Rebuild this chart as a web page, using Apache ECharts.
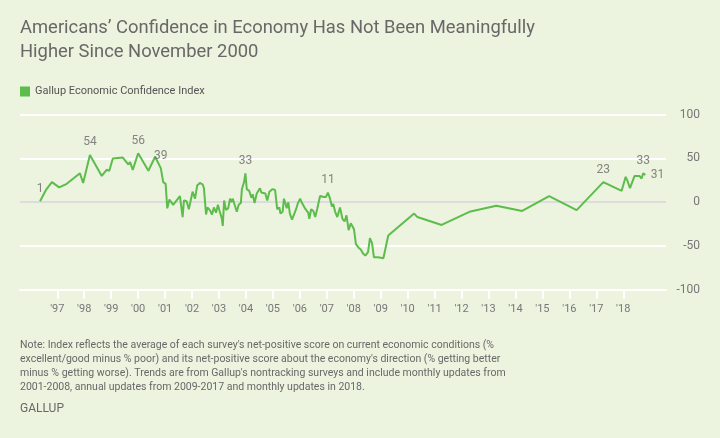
<!DOCTYPE html>
<html>
<head>
<meta charset="utf-8">
<script src="https://cdn.jsdelivr.net/npm/echarts@6/dist/echarts.min.js"></script>
<style>
  html, body { margin: 0; padding: 0; background: #ecf3de; }
  #main { width: 720px; height: 438px; }
</style>
</head>
<body>
<div id="main"></div>
<script>
// survey dates as fractional years, and the index value at each
var dates = [
    1996.36, 1996.58, 1996.80, 1997.07, 1997.35, 1997.84, 1997.96, 1998.21, 1998.65, 1998.83,
    1998.93, 1999.06, 1999.43, 1999.64, 1999.70, 1999.80, 2000.00, 2000.38, 2000.63, 2000.84,
    2000.93, 2001.02, 2001.08, 2001.16, 2001.30, 2001.55, 2001.65, 2001.70, 2001.80, 2001.88,
    2002.02, 2002.11, 2002.19, 2002.29, 2002.40, 2002.44, 2002.52, 2002.57, 2002.66, 2002.74,
    2002.81, 2002.89, 2002.96, 2003.03, 2003.10, 2003.14, 2003.19, 2003.26, 2003.34, 2003.41,
    2003.46, 2003.51, 2003.58, 2003.66, 2003.73, 2003.81, 2003.85, 2003.93, 2003.98, 2004.03,
    2004.12, 2004.20, 2004.25, 2004.32, 2004.40, 2004.52, 2004.57, 2004.64, 2004.72, 2004.79,
    2004.87, 2004.99, 2005.08, 2005.16, 2005.24, 2005.28, 2005.36, 2005.41, 2005.46, 2005.51,
    2005.57, 2005.63, 2005.71, 2005.78, 2005.86, 2005.93, 2006.01, 2006.08, 2006.13, 2006.21,
    2006.31, 2006.35, 2006.42, 2006.50, 2006.57, 2006.65, 2006.75, 2006.82, 2006.89, 2006.97,
    2007.04, 2007.12, 2007.19, 2007.24, 2007.31, 2007.39, 2007.49, 2007.58, 2007.66, 2007.73,
    2007.81, 2007.89, 2007.96, 2008.01, 2008.08, 2008.18, 2008.26, 2008.35, 2008.43, 2008.53,
    2008.60, 2008.68, 2008.75, 2008.82, 2008.90, 2008.97, 2009.10, 2009.28, 2010.24, 2010.36,
    2011.26, 2012.29, 2013.29, 2014.25, 2015.25, 2016.27, 2017.26, 2017.94, 2018.09, 2018.15,
    2018.25, 2018.42, 2018.60, 2018.68, 2018.74, 2018.82
];
var scores = [
    1, 14, 23, 17, 21, 33, 22, 54, 30, 37,
    36, 50, 51, 43, 46, 37, 56, 36, 52, 39,
    23, 21, -7, 3, -3, 7, -17, 2, 1, -8,
    12, 4, 19, 22, 20, 16, -14, -6, -9, -14,
    -6, -12, -3, -11, -18, -27, 2, -9, -7, 4,
    0, 4, -3, -11, -3, -1, 15, 23, 33, 15,
    13, 5, 9, -1, 10, 16, 11, 12, 10, 2,
    12, 15, 14, -8, -6, -13, -11, 4, -1, -7,
    0, -13, -20, -22, -8, -1, 4, -1, -2, -8,
    -12, -19, -8, -10, -17, -7, 7, 5, 6, 6,
    11, 4, -5, -2, -11, -17, -6, -19, -22, -15,
    -32, -24, -28, -31, -48, -52, -54, -59, -61, -57,
    -41, -47, -63, -61, -63, -64, -64, -38, -13, -17,
    -26, -11, -4, -10, 7, -9, 23, 13, 29, 25,
    16, 30, 30, 27, 33, 31
];
// points that carry a value label, and which of them have it on the right
var labelDates = [1996.36, 1998.21, 2000.00, 2000.84, 2003.98, 2007.04, 2017.26, 2018.74, 2018.82];
var labelRight = [2018.82];
var yearTicks = [];
for (var yr = 1997; yr <= 2018; yr++) yearTicks.push(yr);

var seriesName = 'Gallup Economic Confidence Index';
var noteText = "Note: Index reflects the average of each survey's net-positive score on current economic conditions (%\n" +
    "excellent/good minus % poor) and its net-positive score about the economy's direction (% getting better\n" +
    "minus % getting worse). Trends are from Gallup's nontracking surveys and include monthly updates from\n" +
    "2001-2008, annual updates from 2009-2017 and monthly updates in 2018.";

var font = 'Roboto';
var green = '#5cbd4c';
var gray = '#686868';

var lineData = dates.map(function (d, i) { return [d, scores[i]]; });
var labelData = [];
dates.forEach(function (d, i) {
    if (labelDates.indexOf(d) >= 0) {
        var right = labelRight.indexOf(d) >= 0;
        labelData.push({
            value: [d, scores[i]],
            label: { position: right ? 'right' : 'top', distance: right ? 5 : 6 }
        });
    }
});

var myChart = echarts.init(document.getElementById('main'));
myChart.setOption({
    backgroundColor: '#ecf3de',
    animation: false,
    textStyle: { fontFamily: font },
    title: [
        {
            text: 'Americans’ Confidence in Economy Has Not Been Meaningfully\nHigher Since November 2000',
            left: 20, top: 17, padding: 0,
            textStyle: { fontFamily: font, fontSize: 18.4, fontWeight: 'normal', color: gray, lineHeight: 23.4 }
        },
        {
            text: noteText,
            left: 20, top: 338, padding: 0,
            textStyle: { fontFamily: font, fontSize: 10.5, fontWeight: 'normal', color: gray, lineHeight: 14.2 }
        },
        {
            text: 'GALLUP',
            left: 20, top: 402, padding: 0,
            textStyle: { fontFamily: font, fontSize: 12, fontWeight: 'normal', color: gray, lineHeight: 14 }
        }
    ],
    legend: {
        data: [seriesName],
        left: 20, top: 86, padding: 0,
        icon: 'rect', itemWidth: 10, itemHeight: 10, itemGap: 6,
        textStyle: { fontFamily: font, fontSize: 11, color: '#555' }
    },
    grid: { left: 20, right: 54, top: 114.7, bottom: 148.3, containLabel: false },
    xAxis: {
        type: 'value',
        min: 1995.616, max: 2019.586,
        splitLine: { show: false },
        axisLine: { show: true, onZero: false, lineStyle: { color: '#ffffff', width: 2 } },
        axisTick: { show: true, customValues: yearTicks, length: 9, lineStyle: { color: '#ffffff', width: 2 } },
        axisLabel: {
            customValues: yearTicks, margin: 14, fontSize: 11, color: '#777',
            formatter: function (v) { return "'" + String(Math.round(v)).slice(2); }
        }
    },
    yAxis: {
        type: 'value', position: 'right',
        min: -100, max: 100, interval: 50,
        axisLine: { show: false },
        axisTick: { show: false },
        axisLabel: { align: 'right', margin: 34, fontSize: 12, color: '#777' },
        splitLine: { lineStyle: { color: ['#ffffff', '#ffffff', '#dcdcdc', '#ffffff', '#ffffff'], width: 2 } }
    },
    series: [
        {
            name: seriesName,
            type: 'line',
            data: lineData,
            showSymbol: false,
            color: green,
            lineStyle: { color: green, width: 2 },
            z: 3
        },
        {
            name: 'labels',
            type: 'scatter',
            data: labelData,
            symbolSize: 1,
            itemStyle: { color: 'rgba(0,0,0,0)' },
            label: { show: true, fontSize: 12, color: gray, formatter: function (p) { return p.value[1]; } },
            silent: true,
            z: 4
        }
    ]
});
window.onresize = myChart.resize;
</script>
</body>
</html>
